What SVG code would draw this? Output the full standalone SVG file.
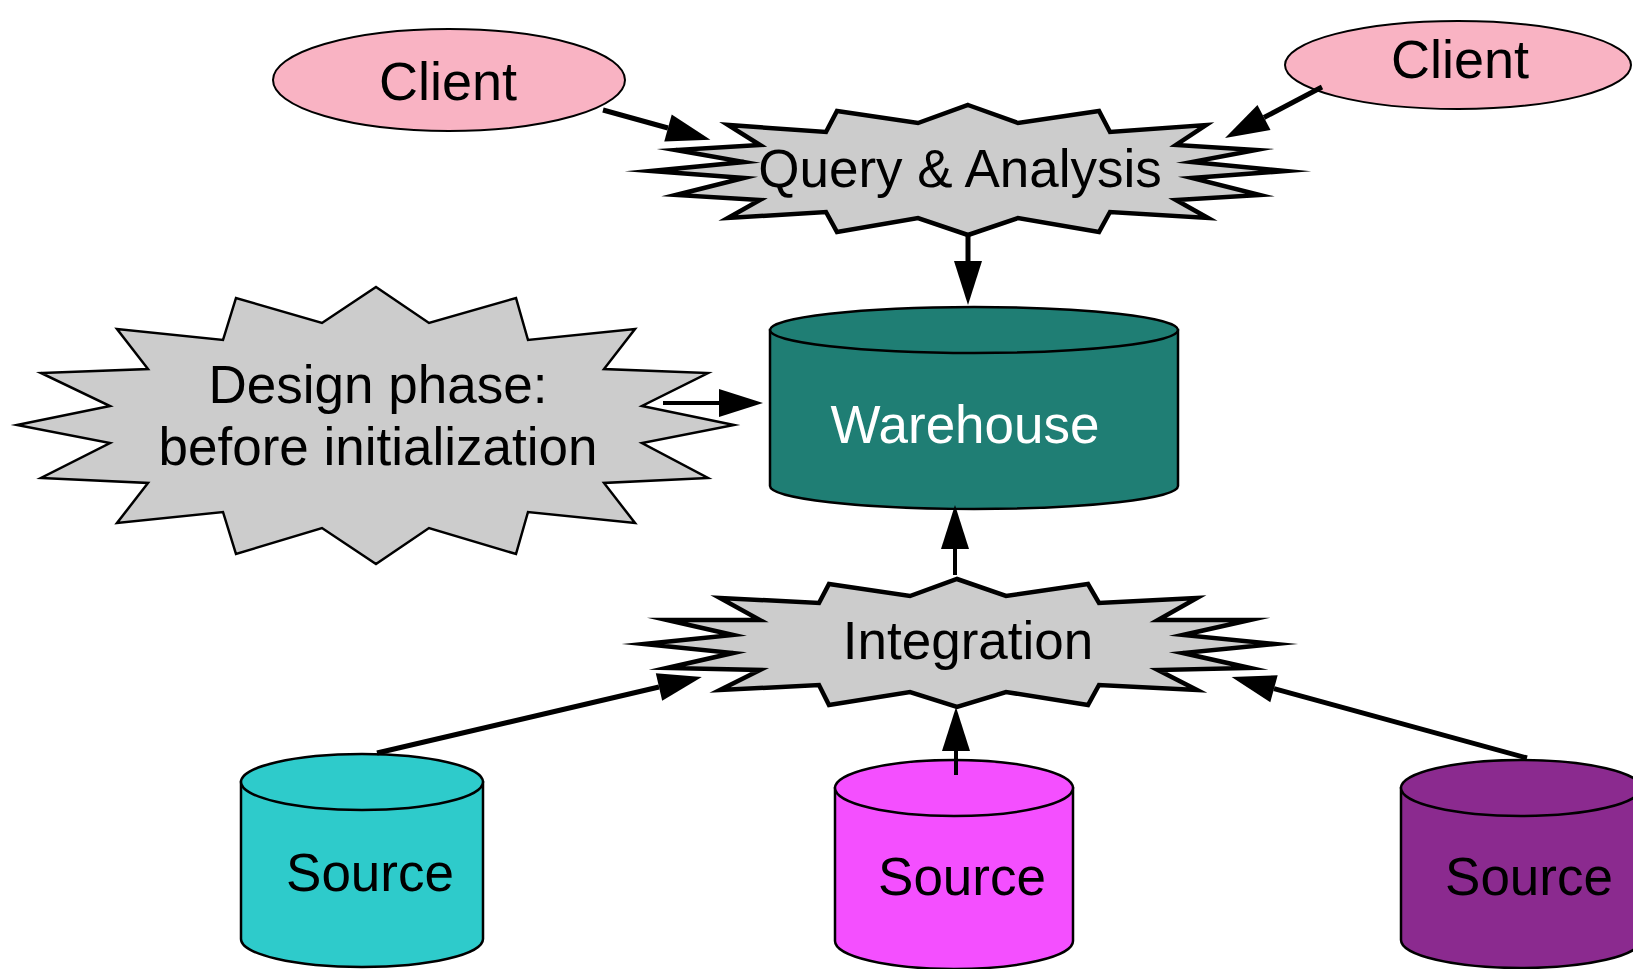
<svg xmlns="http://www.w3.org/2000/svg" width="1633" height="969" viewBox="0 0 1633 969">
<defs>
<style>
text{font-family:"Liberation Sans",Arial,sans-serif;font-size:53px;fill:#000;text-anchor:middle}
.star{fill:#cccccc;stroke:#000;stroke-linejoin:miter;stroke-miterlimit:20}
.thick{stroke-width:4.5}
.thin{stroke-width:2.5}
.client{fill:#f9b3c3;stroke:#000;stroke-width:2}
.cyl{stroke:#000;stroke-width:2.5}
.conn{stroke:#000;stroke-width:5;fill:none;marker-end:url(#ah)}
</style>
<marker id="ah" markerUnits="userSpaceOnUse" orient="auto" refX="0" refY="0" markerWidth="50" markerHeight="30" overflow="visible">
<path d="M0,-14 L44,0 L0,14 Z" fill="#000"/>
</marker>
</defs>
<rect width="1633" height="969" fill="#fff"/>

<g id="client-left">
<ellipse class="client" cx="449" cy="80" rx="176" ry="51"/>
<text x="448" y="100" style="font-size:54px">Client</text>
</g>

<g id="client-right">
<ellipse class="client" cx="1458" cy="65" rx="173" ry="44"/>
<text x="1460" y="78" style="font-size:54px">Client</text>
</g>

<g id="query">
<polygon class="star thick" points="968,105 1018,123 1099,111 1110,132 1206,125 1176,145 1256,150 1192,162 1285,171 1192,178 1260,195 1176,200 1208,218 1110,212 1099,232 1018,218 968,235 918,218 837,232 826,212 728,218 760,200 676,195 744,178 651,171 744,162 676,150 760,145 728,125 826,132 837,111 918,123"/>
<text x="960" y="187">Query &amp; Analysis</text>
</g>

<g id="design">
<polygon class="star thin" points="376,287 429,323 516,298 528,340 635,329 604,369 708,373 642,406 734,425 642,443 708,478 604,483 635,523 528,512 516,554 429,528 376,564 322,528 236,554 223,512 117,523 148,483 41,478 110,443 17,425 110,406 41,373 148,369 117,329 223,340 236,298 322,323"/>
<text x="378" y="403">Design phase:</text>
<text x="378" y="465">before initialization</text>
</g>

<g id="warehouse">
<path class="cyl" fill="#1f7e74" d="M770,330 L770,486 A204,23 0 0 0 1178,486 L1178,330 Z"/>
<ellipse class="cyl" fill="#1f7e74" cx="974" cy="330" rx="204" ry="23"/>
<text x="965" y="443" style="fill:#fff">Warehouse</text>
</g>

<g id="integration">
<polygon class="star thick" points="957,579 1006,596 1088,584 1099,603 1197,598 1158,620 1250,620 1183,635 1275,644 1183,653 1250,668 1158,670 1197,690 1099,685 1088,705 1006,692 957,707 910,692 829,705 819,685 720,690 760,670 667,668 733,653 644,644 733,635 667,620 760,620 720,598 819,603 829,584 910,596"/>
<text x="968" y="659">Integration</text>
</g>

<g id="source-1">
<path class="cyl" fill="#2ecbcb" d="M241,782 L241,939 A121,28 0 0 0 483,939 L483,782 Z"/>
<ellipse class="cyl" fill="#2ecbcb" cx="362" cy="782" rx="121" ry="28"/>
<text x="370" y="891">Source</text>
</g>

<g id="source-2">
<path class="cyl" fill="#f44fff" d="M835,788 L835,941 A119,28 0 0 0 1073,941 L1073,788 Z"/>
<ellipse class="cyl" fill="#f44fff" cx="954" cy="788" rx="119" ry="28"/>
<text x="962" y="895">Source</text>
</g>

<g id="source-3">
<path class="cyl" fill="#8b2a8f" d="M1401,788 L1401,940 A120,28 0 0 0 1641,940 L1641,788 Z"/>
<ellipse class="cyl" fill="#8b2a8f" cx="1521" cy="788" rx="120" ry="28"/>
<text x="1529" y="895">Source</text>
</g>

<g id="connectors">
<line class="conn" x1="603" y1="110" x2="668" y2="128"/>
<line class="conn" x1="1322" y1="87" x2="1264" y2="117.5"/>
<line class="conn" x1="968" y1="235" x2="968" y2="261"/>
<line class="conn" x1="663" y1="403" x2="719" y2="403" style="stroke-width:4"/>
<line class="conn" x1="955" y1="575" x2="955" y2="549" style="stroke-width:4"/>
<line class="conn" x1="377" y1="753" x2="659" y2="687"/>
<line class="conn" x1="956" y1="775" x2="956" y2="751" style="stroke-width:4"/>
<line class="conn" x1="1527" y1="758" x2="1274" y2="688.7"/>
</g>
</svg>
